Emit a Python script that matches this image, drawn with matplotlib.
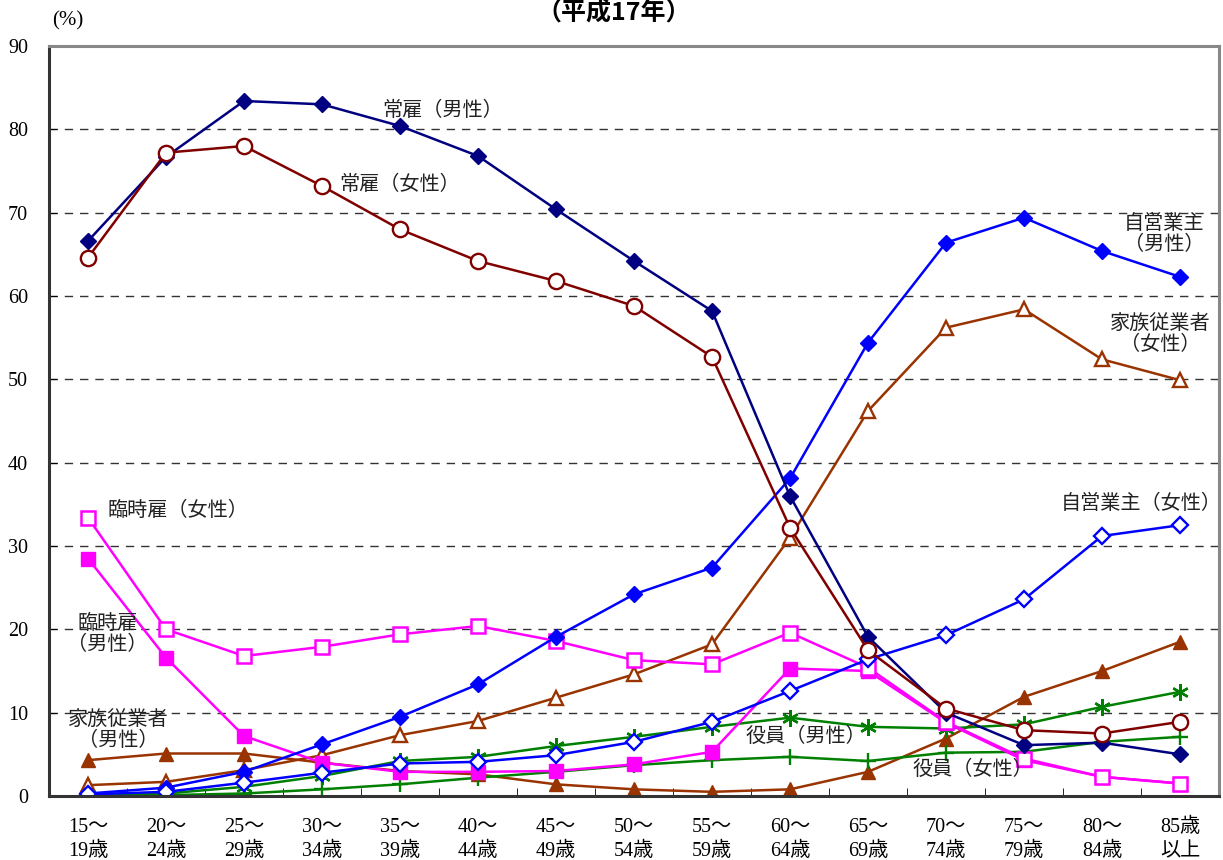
import matplotlib
matplotlib.use('Agg')
import matplotlib.pyplot as plt
import numpy as np

plt.rcParams['font.family'] = ['Liberation Serif', 'Noto Sans CJK JP']

# 年齢階級
ages = ['15～\n19歳', '20～\n24歳', '25～\n29歳', '30～\n34歳', '35～\n39歳',
        '40～\n44歳', '45～\n49歳', '50～\n54歳', '55～\n59歳', '60～\n64歳',
        '65～\n69歳', '70～\n74歳', '75～\n79歳', '80～\n84歳', '85歳\n以上']

# 各系列 (%)
joko_m = [66.6, 76.7, 83.4, 83.0, 80.4, 76.8, 70.4, 64.2, 58.2, 36.0, 19.1, 10.0, 6.1, 6.4, 5.0]
joko_f = [64.6, 77.2, 78.0, 73.2, 68.0, 64.2, 61.8, 58.8, 52.7, 32.2, 17.5, 10.5, 7.9, 7.5, 8.9]
jiei_m = [0.3, 1.0, 2.9, 6.2, 9.5, 13.4, 19.1, 24.2, 27.4, 38.1, 54.4, 66.4, 69.4, 65.4, 62.3]
jiei_f = [0.2, 0.5, 1.6, 2.8, 3.9, 4.1, 4.9, 6.5, 8.9, 12.6, 16.4, 19.3, 23.6, 31.2, 32.5]
kazoku_f = [1.3, 1.7, 3.1, 4.9, 7.3, 9.0, 11.8, 14.6, 18.2, 31.0, 46.2, 56.2, 58.4, 52.4, 49.9]
kazoku_m = [4.3, 5.1, 5.1, 4.0, 3.0, 2.6, 1.4, 0.8, 0.5, 0.8, 2.9, 6.9, 11.9, 15.0, 18.5]
rinji_f = [33.4, 20.0, 16.8, 17.9, 19.4, 20.4, 18.6, 16.3, 15.8, 19.6, 15.4, 8.9, 4.5, 2.3, 1.5]
rinji_m = [28.5, 16.6, 7.2, 4.0, 2.9, 2.9, 3.0, 3.8, 5.3, 15.3, 15.0, 8.8, 4.3, 2.3, 1.5]
yakuin_m = [0.1, 0.3, 1.1, 2.4, 4.2, 4.7, 6.0, 7.1, 8.3, 9.4, 8.3, 8.1, 8.6, 10.7, 12.5]
yakuin_f = [0.0, 0.1, 0.3, 0.8, 1.4, 2.2, 2.9, 3.7, 4.3, 4.7, 4.2, 5.2, 5.3, 6.5, 7.1]

x = np.arange(len(ages))

fig = plt.figure(figsize=(12.23, 8.6), dpi=100)
ax = fig.add_axes([49 / 1223, 1 - 796 / 860, 1170 / 1223, 750 / 860])

lw = 1.8
ax.plot(x, kazoku_m, color='#993300', lw=lw, marker='^', ms=10, mfc='#993300', mec='#993300')
ax.plot(x, kazoku_f, color='#993300', lw=lw, marker='^', ms=10, mfc='white', mec='#993300', mew=1.7)
ax.plot(x, yakuin_f, color='#008000', lw=lw, marker='+', ms=12, mew=1.7)
ax.plot(x, yakuin_m, color='#008000', lw=lw, marker=(6, 2, 0), ms=12, mew=1.7)
ax.plot(x, rinji_m, color='#FF00FF', lw=lw, marker='s', ms=10, mfc='#FF00FF', mec='#FF00FF')
ax.plot(x, rinji_f, color='#FF00FF', lw=lw, marker='s', ms=10, mfc='white', mec='#FF00FF', mew=1.8)
ax.plot(x, jiei_m, color='#0000FF', lw=lw, marker='D', ms=8, mfc='#0000FF', mec='#0000FF')
ax.plot(x, jiei_f, color='#0000FF', lw=lw, marker='D', ms=8, mfc='white', mec='#0000FF', mew=1.7)
ax.plot(x, joko_m, color='#000080', lw=lw, marker='D', ms=8, mfc='#000080', mec='#000080')
ax.plot(x, joko_f, color='#800000', lw=lw, marker='o', ms=11, mfc='white', mec='#800000', mew=1.7)

ax.set_xlim(-0.5, len(ages) - 0.5)
ax.set_ylim(0, 90)
ax.set_yticks(range(0, 91, 10))
ax.set_xticks(x)
ax.set_xticklabels(ages, fontsize=14.5, linespacing=1.35)
ax.set_xticks(np.arange(0.5, len(ages) - 1, 1), minor=True)
ax.tick_params(axis='x', which='major', length=0, pad=16)
ax.tick_params(axis='x', which='minor', direction='in', length=6, color='black')
ax.tick_params(axis='y', direction='in', length=6, labelsize=14.5, pad=15)

for v in range(10, 90, 10):
    ax.axhline(v, color='#333333', lw=1.0, ls=(0, (6, 5)), zorder=0)

for s in ['left', 'bottom']:
    ax.spines[s].set_color('#333333')
    ax.spines[s].set_linewidth(2.2)
for s in ['top', 'right']:
    ax.spines[s].set_color('#888888')
    ax.spines[s].set_linewidth(2.2)

# 系列名
lab = dict(fontsize=14.5, color='#222222', transform=ax.transData)
ax.text(4.55, 82.2, '常雇（男性）', ha='center', va='center', **lab)
ax.text(4.0, 73.3, '常雇（女性）', ha='center', va='center', **lab)
ax.text(13.8, 67.3, '自営業主\n（男性）', ha='center', va='center', linespacing=1.15, **lab)
ax.text(13.75, 55.3, '家族従業者\n（女性）', ha='center', va='center', linespacing=1.15, **lab)
ax.text(13.5, 35.0, '自営業主（女性）', ha='center', va='center', **lab)
ax.text(1.15, 34.2, '臨時雇（女性）', ha='center', va='center', **lab)
ax.text(0.25, 19.3, '臨時雇\n（男性）', ha='center', va='center', linespacing=1.15, **lab)
ax.text(0.39, 7.8, '家族従業者\n（男性）', ha='center', va='center', linespacing=1.15, **lab)
ax.text(9.2, 7.0, '役員（男性）', ha='center', va='center', **lab)
ax.text(11.34, 3.1, '役員（女性）', ha='center', va='center', **lab)

fig.text(68 / 1223, 1 - 21 / 860, '(%)', ha='center', va='center', fontsize=15)
fig.text(614 / 1223, 1 - 1 / 860, '（平成17年）', ha='center', va='top', fontsize=18,
         fontweight='bold', family=['Noto Sans CJK JP'])

fig.savefig('out.png', dpi=100)
